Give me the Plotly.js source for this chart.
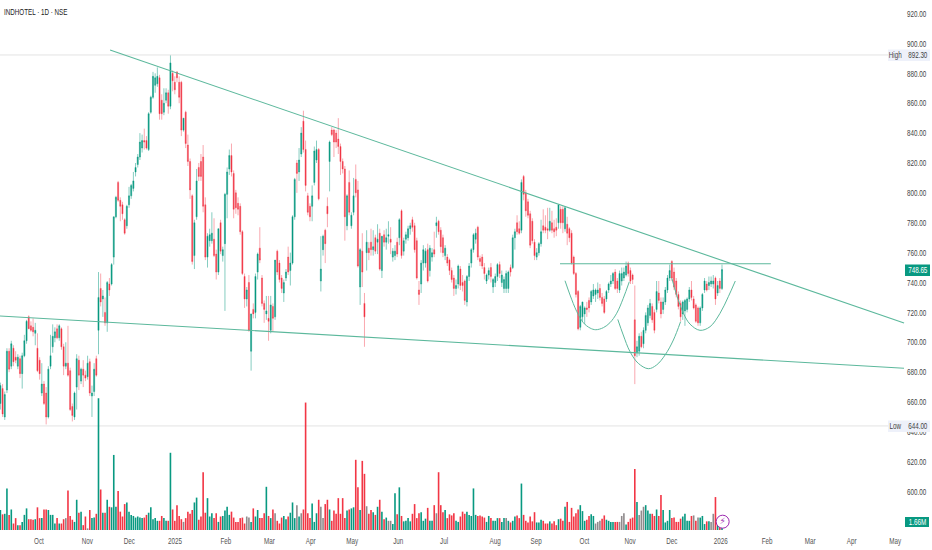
<!DOCTYPE html>
<html>
<head>
<meta charset="utf-8">
<script src="https://cdn.plot.ly/plotly-3.0.1.min.js"></script>
<style>html,body{margin:0;padding:0;background:#fff;overflow:hidden}#c{width:932px;height:550px}
#c svg path{shape-rendering:geometricPrecision !important}</style>
</head>
<body>
<div id="c"></div>
<script>
const opens = [
659,669,650,668,694,684,696,690,684,689,
679,691,701,717,711,710,706,696,688,666,
672,666,650,684,697,703,709,703,709,697,
684,686,681,657,650,670,688,674,682,678,
677,687,664,667,689,708,736,729,720,713,
739,739,757,784,807,795,792,782,778,792,
798,803,814,819,824,830,835,835,829,854,
864,872,873,877,862,854,862,867,858,880,
874,881,874,874,842,854,832,821,798,758,
784,817,821,824,792,757,768,768,769,759,
747,780,758,766,799,816,825,813,800,793,
791,774,744,729,740,694,722,720,747,763,
743,726,719,716,708,724,717,761,753,743,
733,743,757,748,753,784,820,814,826,848,
829,798,791,791,807,822,829,741,762,775,
791,821,842,842,840,836,831,821,816,778,
807,778,787,809,802,737,761,726,760,763,
767,762,770,767,773,748,772,767,771,769,
757,758,767,770,788,761,769,770,776,782,
778,768,735,739,753,753,762,748,757,762,
778,781,775,770,758,757,755,748,743,736,
739,749,740,741,727,744,753,762,769,777,
756,757,750,741,745,750,737,740,744,752,
740,736,736,736,750,750,770,780,776,775,
811,800,794,786,781,767,757,760,766,778,
777,776,775,780,776,777,780,789,789,776,
779,776,773,757,746,734,710,717,719,723,
728,727,731,732,733,736,730,729,729,735,
739,741,747,741,735,741,743,745,753,748,
745,715,693,694,704,699,708,713,718,724,
720,722,733,727,722,727,735,743,754,747,
741,732,726,719,721,722,729,735,729,725,
723,713,723,735,739,738,739,739,743,733,
741,736];
const highs = [
673,672,667,696,696,701,698,694,692,691,
693,705,715,718,714,716,713,706,690,686,
674,670,684,705,712,710,712,712,710,699,
700,711,683,659,667,692,691,683,688,681,
691,689,671,686,691,747,746,735,730,741,
743,753,784,798,808,797,794,783,792,804,
806,814,820,826,840,839,843,838,854,865,
881,880,884,879,866,870,870,869,892.3,882,
878,881,878,875,850,855,839,823,799,782,
816,820,826,832,797,773,776,787,783,762,
776,782,764,800,817,829,833,815,802,797,
793,775,746,737,745,719,726,746,760,777,
745,728,731,731,731,726,755,762,755,745,
742,749,764,760,785,810,822,830,844,855,
835,800,793,805,831,835,830,771,772,776,
797,835,844,843,842,850,833,823,818,799,
815,787,810,819,808,763,773,733,775,767,
776,775,772,779,776,771,775,776,781,777,
763,765,770,783,789,770,774,778,780,784,
780,770,741,755,765,763,766,765,763,774,
784,782,777,772,765,759,756,750,745,742,
752,751,745,742,745,753,763,773,776,778,
758,759,753,746,750,753,743,746,753,754,
748,744,748,748,752,772,776,785,781,809,
812,802,796,788,783,769,763,767,782,789,
785,790,790,788,782,783,792,791,791,791,
784,777,775,758,747,735,725,727,724,727,
730,735,739,736,740,739,733,731,735,740,
745,747,749,743,748,750,750,754,754,750,
746,738,701,706,707,710,720,725,729,726,
722,741,741,730,730,737,745,752,755,750,
743,734,728,728,729,730,737,741,731,726,
724,724,733,743,741,744,744,745,744,741,
743,752];
const lows = [
655,650,648,666,680,682,684,686,682,676,
669,690,699,709,707,704,698,680,675,664,
658,645,649,682,693,700,702,701,695,678,
682,677,654,647,648,655,668,672,670,674,
675,664,650,664,677,692,724,717,711,707,
731,738,752,783,794,781,782,772,776,790,
796,801,811,817,822,827,829,829,828,853,
863,867,871,849,849,852,860,853,856,868,
866,874,860,838,841,830,818,796,752,749,
782,808,808,787,755,750,764,766,757,742,
745,759,754,721,783,812,811,783,786,785,
772,745,723,724,707,681,716,716,742,753,
724,713,715,701,706,707,715,745,740,733,
727,741,745,738,752,782,800,808,824,827,
801,785,781,781,805,820,795,734,758,753,
777,801,838,824,830,826,812,813,768,775,
785,776,785,797,750,725,737,697,748,755,
758,758,759,759,748,743,764,762,766,759,
754,755,757,765,756,758,766,768,772,774,
760,742,725,733,748,750,740,744,754,757,
770,772,760,757,755,751,745,740,731,732,
736,735,734,725,724,741,750,760,766,755,
751,749,742,739,742,740,733,737,741,743,
737,733,733,733,744,749,762,772,772,773,
795,784,783,763,766,755,755,758,764,773,
773,769,774,773,770,771,776,776,773,774,
765,767,752,745,730,708,708,714,712,717,
720,725,729,727,729,728,724,719,727,733,
737,739,735,733,733,738,741,744,744,739,
739,672,690,691,696,696,706,711,716,713,
706,720,726,716,719,725,733,741,741,735,
730,722,714,715,711,720,727,728,722,713,
711,711,721,733,734,735,737,736,725,731,
733,735];
const closes = [
671,652,665,694,682,699,687,688,690,679,
691,701,714,709,708,707,708,681,679,672,
659,650,682,691,704,707,703,711,697,684,
686,678,655,651,666,689,678,682,678,676,
686,666,666,682,678,730,727,731,713,740,
735,752,784,797,795,791,786,773,791,798,
805,808,817,824,834,835,834,830,853,864,
878,877,878,853,853,860,867,858,887,875,
869,877,864,842,850,833,821,802,754,780,
808,811,811,791,757,771,772,773,758,747,
776,761,762,799,814,825,814,789,790,789,
774,746,729,735,708,719,719,744,759,755,
726,722,721,714,725,716,755,747,742,736,
740,747,747,753,784,809,813,822,840,829,
805,787,784,798,828,829,796,749,771,766,
786,834,839,834,834,831,821,816,784,798,
787,785,798,800,751,762,747,717,767,760,
762,764,761,769,749,771,767,770,772,767,
761,761,759,782,758,768,772,776,778,777,
762,743,732,753,762,761,741,763,760,759,
780,774,764,760,763,753,748,742,736,738,
751,738,738,728,744,751,762,772,773,757,
754,751,746,745,748,744,742,744,752,746,
745,742,746,747,747,770,774,774,773,807,
799,788,785,765,768,758,760,766,774,775,
775,775,781,775,774,775,792,780,780,790,
773,770,753,746,732,709,724,727,723,722,
723,734,735,735,735,730,726,720,734,739,
741,746,736,736,746,746,747,751,746,741,
742,691,697,704,697,708,718,723,726,715,
708,734,728,719,727,735,743,748,743,737,
732,724,717,727,728,729,735,730,723,714,
713,723,732,741,735,740,741,741,729,738,
736,748.65];
const volumes = [
3.7,2.9,3.0,7.7,2.8,3.8,1.2,2.2,0.9,0.9,
1.5,2.8,4.0,2.0,2.0,1.9,2.0,4.2,2.2,2.2,
3.8,3.8,3.7,2.8,2.8,1.2,2.2,1.2,1.2,2.0,
2.2,7.3,2.6,1.9,1.5,5.6,3.2,3.4,0.9,2.5,
0.3,3.7,2.2,2.3,3.0,24.4,7.5,3.2,3.2,5.6,
4.3,4.2,13.9,4.3,7.2,3.4,2.5,4.8,5.1,3.4,
2.8,2.6,2.3,2.5,2.3,2.2,2.3,2.8,3.2,4.2,
2.0,2.2,1.7,1.7,2.6,2.2,1.7,1.7,14.3,3.8,
1.7,4.6,2.6,2.0,1.5,2.2,3.4,3.0,3.7,5.1,
6.0,1.9,2.5,10.7,3.2,5.9,2.5,3.1,2.2,3.1,
1.5,2.5,2.6,3.6,4.3,2.8,3.4,2.3,1.5,1.5,
2.2,2.3,1.2,2.5,2.3,1.5,4.0,2.5,3.7,2.2,
2.2,3.1,8.0,2.6,2.2,3.8,3.1,1.7,1.2,2.3,
2.6,2.0,2.5,3.2,5.1,2.2,4.6,2.5,3.1,3.8,
23.6,3.1,2.2,4.9,1.5,3.1,5.6,4.3,2.2,4.8,
5.6,3.8,1.7,3.6,3.0,5.9,3.0,5.9,2.2,3.6,
3.8,4.0,4.2,13.0,7.9,3.7,12.8,10.4,4.4,3.0,
3.7,3.3,2.8,4.3,5.6,3.4,2.0,2.3,1.7,1.7,
1.1,6.8,2.9,7.9,2.6,1.6,1.7,2.2,1.6,3.0,
4.8,2.2,3.1,3.3,1.7,2.1,4.1,1.7,1.7,4.6,
3.1,10.7,4.6,3.3,3.7,2.2,2.9,2.7,3.1,1.7,
1.5,2.5,3.4,3.0,3.4,2.8,2.6,7.7,2.8,2.6,
2.7,2.5,2.3,1.5,2.6,2.2,1.7,1.7,2.2,2.2,
1.5,2.2,2.2,1.7,1.4,1.7,2.5,2.7,2.2,8.6,
2.8,1.7,1.4,2.5,1.6,3.3,1.4,1.4,1.9,1.7,
1.2,1.2,1.6,1.2,1.6,0.9,2.0,2.1,1.7,4.3,
5.2,1.5,4.1,2.5,3.1,3.8,4.6,3.5,1.7,1.9,
2.6,2.9,2.6,1.2,1.5,1.7,2.1,2.7,1.9,1.7,
1.5,1.5,1.5,1.5,1.5,2.6,3.1,1.0,1.5,2.1,
2.3,11.3,5.2,2.8,3.6,4.3,4.6,3.6,3.0,3.0,
2.6,3.8,2.6,6.5,3.7,1.4,1.7,3.7,2.2,2.3,
1.5,1.5,2.1,2.5,3.0,1.7,1.7,2.6,2.7,1.7,
2.3,2.3,2.6,1.1,1.6,1.6,1.5,3.0,6.1,1.2,
0.9,1.66];
const greyVolumeBars = [30,40,84,113,114,126,136,138,147,148,168,178,179,200,232,273,274,275,284,285,286,293,294,295,318,320,326,327];
const monthTicks = [17.7,39.9,59.1,80.1,103.4,123.4,142.3,161.4,182.5,203.5,226.9,245.7,267.9,288.8,308,330.4,351.7,371.4,390.5,410.4];
const monthLabels = ["Oct","Nov","Dec","2025","Feb","Mar","Apr","May","Jun","Jul","Aug","Sep","Oct","Nov","Dec","2026","Feb","Mar","Apr","May"];
const priceTicks = [600,620,640,660,680,700,720,740,760,780,800,820,840,860,880,900,920];
const upperX = [50.3,414.5], upperY = [895.6,712.9];
const lowerX = [-0.2,414.5], lowerY = [717.6,682.6];
const neckX = [256.7,353.4], neckY = [752.6,752.6];
const arc1X = [259,261.3,264.4,267.4,270.5,273.1,276.6,279.6,282.7,285.7,288.5];
const arc1Y = [741.2,731.6,720.5,713.1,709.5,708.4,709.8,713.1,719.4,729.4,740.6];
const arc2X = [283.2,285.7,288.8,292.6,297.2,301,304.9,308.7,312];
const arc2Y = [715.3,704.9,693.7,685.9,682.3,684.8,691.5,701.5,713.8];
const arc3X = [308,310.2,313.3,316.3,320.9,325.5,330.1,333.9,337.1];
const arc3Y = [742.8,731.6,719.4,712.2,708,710.4,719.4,730.5,741];
const highValue = 892.3, lowValue = 644, lastValue = 748.65, lastVolume = 1.66;
const alertX = [331.3], alertY = [1.54];

const GREEN = "#089981", RED = "#F23645", GREY = "#8f8a8c", LINE = "#5cb89c", TAG = "#eef1fa";
const FONT = '"Liberation Sans", sans-serif';
const idx = opens.map((_, i) => i);
const volColors = idx.map(i => greyVolumeBars.includes(i) ? GREY : (closes[i] >= opens[i] ? GREEN : RED));
const xLim = [-0.18, 415.4];

const line = (x, y, extra) => Object.assign({
  type: "scatter", mode: "lines", x, y, hoverinfo: "skip", showlegend: false,
  line: { color: LINE, width: 1.1 }
}, extra || {});
const arc = (x, y) => line(x, y, { line: { color: LINE, width: 1, shape: "spline", smoothing: 1 } });

const traces = [
  line(xLim, [highValue, highValue], { line: { color: "#e3e3e3", width: 1 } }),
  line(xLim, [lowValue, lowValue], { line: { color: "#e3e3e3", width: 1 } }),
  { type: "bar", x: idx, y: volumes, yaxis: "y2", width: 0.74, marker: { color: volColors, line: { width: 0 } }, hoverinfo: "skip", showlegend: false },
  { type: "candlestick", x: idx, open: opens, high: highs, low: lows, close: closes, whiskerwidth: 0, width: 0.74,
    increasing: { line: { color: "rgba(8,153,129,0.7)", width: 0.7 }, fillcolor: GREEN },
    decreasing: { line: { color: "rgba(242,54,69,0.62)", width: 0.7 }, fillcolor: RED },
    hoverinfo: "skip", showlegend: false },
  line(upperX, upperY), line(lowerX, lowerY), line(neckX, neckY),
  arc(arc1X, arc1Y), arc(arc2X, arc2Y), arc(arc3X, arc3Y),
  { type: "scatter", mode: "markers+text", x: alertX, y: alertY, yaxis: "y2", text: ["⚡"], textposition: "middle center",
    textfont: { size: 9, color: "#9c27b0", family: "DejaVu Sans" },
    marker: { size: 13, color: "#fff", line: { color: "#9c27b0", width: 1 } }, hoverinfo: "skip", showlegend: false }
];

const yPaper = px => 1 - px / 532;
const xPaper = px => px / 906;
const tag = (text, cx, cy, color) => ({
  xref: "paper", yref: "paper", x: xPaper(cx), xanchor: "center", y: yPaper(cy), yanchor: "middle", showarrow: false, text,
  font: { family: FONT, size: 9, color }, borderpad: 0, borderwidth: 0
});
const box = (x0, x1, y0, y1, fill) => ({
  type: "rect", xref: "paper", yref: "paper", layer: "above", x0: xPaper(x0), x1: xPaper(x1), y0: yPaper(y0), y1: yPaper(y1),
  fillcolor: fill, line: { width: 0 }
});

const layout = {
  width: 932, height: 550, paper_bgcolor: "#fff", plot_bgcolor: "#fff", showlegend: false,
  margin: { l: 0, r: 26, t: 0, b: 18, pad: 0 }, bargap: 0,
  title: { text: "INDHOTEL · 1D · NSE", x: 0.0043, xanchor: "left", y: 0.979, yanchor: "middle", font: { family: FONT, size: 9.5, color: "#222" } },
  xaxis: { range: xLim, tickmode: "array", tickvals: monthTicks, ticktext: monthLabels, showgrid: false, zeroline: false, showline: false,
    ticks: "", ticklabelstandoff: 2, tickfont: { family: FONT, size: 9, color: "#555" }, rangeslider: { visible: false }, fixedrange: true },
  yaxis: { range: [573.0, 929.1], side: "right", tickmode: "array", tickvals: priceTicks, ticktext: priceTicks.map(v => v.toFixed(2)),
    showgrid: false, zeroline: false, showline: false, ticks: "", tickfont: { family: FONT, size: 9, color: "#444" }, fixedrange: true },
  yaxis2: { range: [-0.37, 98.15], overlaying: "y", side: "left", showticklabels: false, showgrid: false, zeroline: false, showline: false, ticks: "", fixedrange: true },
  shapes: [
    box(888, 930, 49.5, 61, TAG),
    box(888, 930, 420.5, 432, TAG),
    box(905, 930, 264.5, 276, GREEN),
    box(905, 929, 517, 527, GREEN)
  ],
  annotations: [
    tag("High", 895.5, 55, "#444"),
    tag(highValue.toFixed(2), 917.5, 55, "#444"),
    tag("Low", 895, 426, "#444"),
    tag(lowValue.toFixed(2), 917.5, 426, "#444"),
    tag(lastValue.toFixed(2), 917.5, 270, "#fff"),
    tag(lastVolume.toFixed(2) + "M", 917, 522, "#fff")
  ]
};
Plotly.newPlot("c", traces, layout, { displayModeBar: false, staticPlot: true }).then(() => {
  /* The reference type is condensed; no narrow face is installed, so narrow the drawn text about its own anchor. */
  document.querySelectorAll("#c svg text").forEach(t => {
    if (t.closest(".textpoint")) return;
    const k = t.closest(".g-gtitle") ? 0.66 : 0.7;
    const ax = parseFloat(t.getAttribute("x")) || 0;
    const old = t.getAttribute("transform") || "";
    t.setAttribute("transform", `${old} translate(${ax},0) scale(${k},1) translate(${-ax},0)`.trim());
  });
});
</script>
</body>
</html>
